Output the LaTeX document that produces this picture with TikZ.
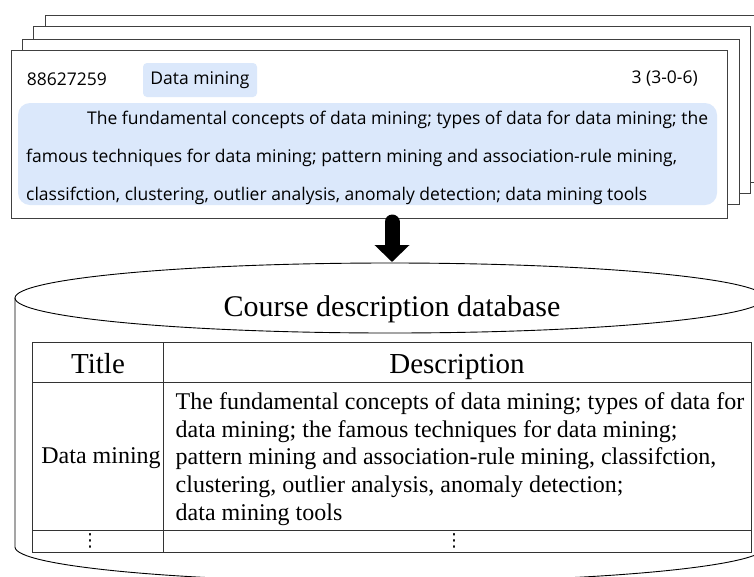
\documentclass[tikz,border=0pt]{standalone}
\usepackage{fontspec}
\setmainfont{Liberation Serif}
\newfontfamily\cardfont{Open Sans}
\newfontfamily\dotfont{DejaVu Sans}
\usepackage{tikz}
\usetikzlibrary{arrows.meta}
\usepackage{xcolor}
\definecolor{tagblue}{RGB}{219,232,251}

\begin{document}
\begin{tikzpicture}[x=1pt,y=-1pt,line cap=round,
  page/.style={draw=black!75,line width=1pt,fill=white},
  cardtext/.style={font=\cardfont\fontsize{17.5}{21}\selectfont,inner sep=0pt},
  rule/.style={draw=black!80,line width=1pt},
  headtext/.style={font=\fontsize{29}{33}\selectfont,inner sep=0pt,anchor=base},
  moredots/.style={font=\dotfont\fontsize{18}{18}\selectfont,inner sep=0pt}]
\useasboundingbox (0,0) rectangle (754,576);
\clip (0,0) rectangle (754,576);
% stacked course pages
\draw[page] (45,15) rectangle (761,182);
\draw[page] (33.3,26.7) rectangle (750.7,193);
\draw[page] (22,39) rectangle (739,204);
\node[page,anchor=north west,minimum width=716.3pt,minimum height=168pt,inner sep=0pt] (card) at (10.7,50) {};
\node[cardtext,anchor=west] (code) at (26.7,79) {88627259};
\node[cardtext,fill=tagblue,rounded corners=4pt,minimum width=114pt,minimum height=34pt] (tag) at (200,80) {Data mining};
\node[cardtext,anchor=east] (credit) at (698,79) {3 (3-0-6)};
\fill[tagblue,rounded corners=12pt] (18,103) rectangle (717,205);
\node[cardtext,anchor=west,align=left,font=\cardfont\fontsize{17.5}{38}\selectfont] (desc) at (26,158)
  {\hspace*{61pt}The fundamental concepts of data mining; types of data for data mining; the\\
   famous techniques for data mining; pattern mining and association-rule mining,\\
   classifction, clustering, outlier analysis, anomaly detection; data mining tools};
% database cylinder
\coordinate (dbtop) at (392,262);
\draw[line width=0.9pt] (390,298) ellipse [x radius=375pt,y radius=35pt];
\draw[line width=0.9pt] (15,298) -- (15,547) arc[start angle=180,end angle=360,x radius=375pt,y radius=35pt] -- (765,298);
\node[font=\fontsize{30}{34}\selectfont,inner sep=0pt] (dbname) at (392,309) {Course description database};
\draw[line width=15pt,-{Triangle[width=34pt,length=17pt]}] (card.south -| dbtop) ++(0,3) -- (dbtop);
% table inside
\draw[rule] (32.7,342.7) rectangle (751,552);
\draw[rule] (163.5,342.7) -- (163.5,552);
\draw[rule] (32.7,382.7) -- (751,382.7);
\draw[rule] (32.7,530) -- (751,530);
\node[headtext] (htitle) at (98,373) {Title};
\node[headtext] (hdesc) at (457,373) {Description};
\node[font=\fontsize{24}{28}\selectfont,inner sep=0pt] (rtitle) at (101,458) {Data mining};
\node[font=\fontsize{24}{27.8}\selectfont,inner sep=0pt,anchor=west,align=left] (rdesc) at (175.5,459)
  {The fundamental concepts of data mining; types of data for\\
   data mining; the famous techniques for data mining;\\
   pattern mining and association-rule mining, classifction,\\
   clustering, outlier analysis, anomaly detection;\\
   data mining tools};
\node[moredots] (dots1) at (90,541) {⋮};
\node[moredots] (dots2) at (454,541) {⋮};
\end{tikzpicture}
\end{document}
